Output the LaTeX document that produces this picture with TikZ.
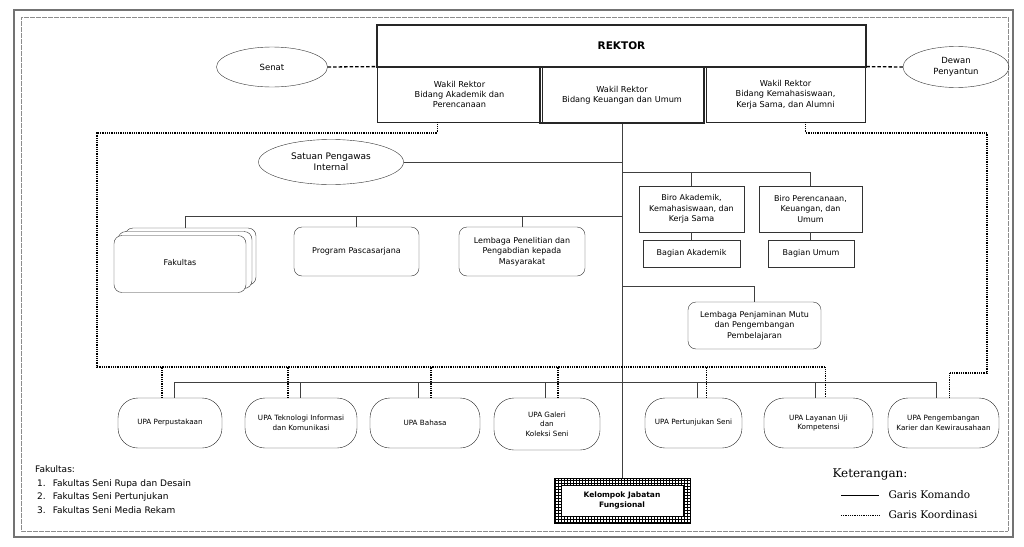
\documentclass[tikz,border=0pt]{standalone}
\usepackage{fontspec}
\setmainfont{DejaVu Sans}
\newfontfamily\ketfont{DejaVu Serif}
\usetikzlibrary{shapes.geometric, patterns, calc}

\begin{document}
\begin{tikzpicture}[x=1pt, y=-1pt,
  lead/.style={draw=black!85, line width=1.2pt, minimum width=489pt, minimum height=42pt, font=\fontsize{10.5}{12}\selectfont\bfseries},
  wakil/.style={draw=black!85, line width=0.8pt, minimum height=55pt, align=center, font=\fontsize{8.2}{10.3}\selectfont},
  oval/.style={draw=black!80, ellipse, inner sep=0pt, align=center, font=\fontsize{8.5}{10.5}\selectfont},
  biro/.style={draw=black!80, minimum height=46pt, align=center, font=\fontsize{8}{10.3}\selectfont},
  bagian/.style={draw=black!80, minimum height=27pt, align=center, font=\fontsize{8}{10}\selectfont},
  unitbox/.style={draw=black!80, fill=white, rounded corners=8pt, align=center, font=\fontsize{8}{10.3}\selectfont},
  upa/.style={draw=black!85, rounded corners=20pt, minimum height=50pt, align=center, font=\fontsize{7.2}{9.4}\selectfont},
  cmd/.style={black!75, line width=0.8pt},
  coord/.style={black, line width=1.2pt, dash pattern=on 0.9pt off 0.9pt},
  tie/.style={black, line width=1.3pt, dash pattern=on 3.5pt off 2pt},
]
\useasboundingbox (0,0) rectangle (1024,546);

% frame
\draw[black!55, line width=1.3pt] (14,10) rectangle (1013,537);
\draw[black!45, line width=0.5pt, dash pattern=on 0.6pt off 0.6pt] (21,17) rectangle (1008,531);

% top
\node[lead] (rek) at (621.5,46) {REKTOR};
\node[wakil, minimum width=165pt] (wk1) at (459.5,94.5) {Wakil Rektor\\Bidang Akademik dan\\Perencanaan};
\node[wakil, minimum width=159pt] (wk3) at (785.5,94.5) {Wakil Rektor\\Bidang Kemahasiswaan,\\Kerja Sama, dan Alumni};
\node[wakil, minimum width=164pt, minimum height=56pt, line width=1.3pt] (wk2) at (622,95) {Wakil Rektor\\Bidang Keuangan dan Umum};

\node[oval, minimum width=111pt, minimum height=40pt] (senat) at (272,67) {Senat};
\node[oval, minimum width=106pt, minimum height=41pt] (dewan) at (956,67) {Dewan\\Penyantun};
\node[oval, minimum width=145pt, minimum height=45pt, font=\fontsize{9}{11}\selectfont] (spi) at (331,162) {Satuan Pengawas\\Internal};

% left units
\node[unitbox, minimum width=131pt, minimum height=57pt] (fakb) at (190.5,256.5) {};
\node[unitbox, minimum width=134pt, minimum height=57pt] (fakm) at (185,260) {};
\node[unitbox, minimum width=132pt, minimum height=57pt] (fak) at (180,264) {\raisebox{4pt}{Fakultas}};
\node[unitbox, minimum width=125pt, minimum height=49pt] (pps) at (356.5,251.5) {Program Pascasarjana};
\node[unitbox, minimum width=126pt, minimum height=49pt] (lpp) at (522,251.5) {Lembaga Penelitian dan\\Pengabdian kepada\\Masyarakat};

% right units
\node[biro, minimum width=105pt] (biroa) at (691.5,209) {Biro Akademik,\\Kemahasiswaan, dan\\Kerja Sama};
\node[biro, minimum width=103pt] (birop) at (810.5,209) {Biro Perencanaan,\\Keuangan, dan\\Umum};
\node[bagian, minimum width=97pt] (baga) at (691.5,253.5) {Bagian Akademik};
\node[bagian, minimum width=86pt] (bagu) at (811,253.5) {Bagian Umum};
\node[unitbox, minimum width=133pt, minimum height=47pt] (lpm) at (754.5,325.5) {Lembaga Penjaminan Mutu\\dan Pengembangan\\Pembelajaran};

% UPA row
\node[upa, minimum width=104pt] (u1) at (170,423) {UPA Perpustakaan};
\node[upa, minimum width=112pt] (u2) at (301,423) {UPA Teknologi Informasi\\dan Komunikasi};
\node[upa, minimum width=110pt] (u3) at (425,423) {UPA Bahasa};
\node[upa, minimum width=106pt, minimum height=52pt] (u4) at (547,424) {UPA Galeri\\dan\\Koleksi Seni};
\node[upa, minimum width=97pt] (u5) at (693.5,423) {UPA Pertunjukan Seni};
\node[upa, minimum width=109pt] (u6) at (818.5,423) {UPA Layanan Uji\\Kompetensi};
\node[upa, minimum width=111pt] (u7) at (943.5,423) {UPA Pengembangan\\Karier dan Kewirausahaan};

\node[draw=black, line width=0.8pt, pattern=grid, minimum width=136pt, minimum height=45pt] (kjf) at (622,500.5) {};
\node[draw=black, fill=white, minimum width=122pt, minimum height=31pt, align=center, font=\fontsize{7.5}{9.5}\selectfont\bfseries] (kjftxt) at (kjf) {Kelompok Jabatan\\Fungsional};

\coordinate (barB) at (622,172);
\coordinate (barF) at (622,216);
\coordinate (barL) at (622,286);
\coordinate (barU) at (622,382);
\coordinate (dotL) at (97,133);
\coordinate (dotB) at (97,367);
\coordinate (dotR) at (987,133);
\coordinate (dotR2) at (987,373);

% garis komando
\draw[cmd] (wk2.south) -- (kjf.north);
\draw[cmd] (spi.east) -- (spi.east -| wk2.south);
\foreach \n in {biroa, birop}
  \draw[cmd] (\n.north) |- (barB);
\draw[cmd] (biroa.south) -- (baga.north);
\draw[cmd] (birop.south) -- (birop.south |- bagu.north);
\draw[cmd] ([xshift=-5pt]fakb.north) |- (barF);
\foreach \n in {pps, lpp}
  \draw[cmd] (\n.north) |- (barF);
\draw[cmd] (lpm.north) |- (barL);
\foreach \n/\s in {u1/4, u2/-1, u3/-7, u4/-2, u5/4, u6/-3, u7/-7}
  \draw[cmd] ([xshift=\s pt]\n.north) |- (barU);

% garis koordinasi
\draw[tie] (senat.east) -- (wk1.north west);
\draw[tie] (dewan.west) -- (wk3.north east);
\draw[coord] ([xshift=-22pt]wk1.south) |- (dotL) -- (dotB) -| ([xshift=7pt]u6.north);
\foreach \n/\s in {u1/-8, u2/-13, u3/6, u4/11, u5/13}
  \draw[coord] ([xshift=\s pt]\n.north) -- ([xshift=\s pt]\n.north |- dotB);
\draw[coord] ([xshift=20pt]wk3.south) |- (dotR) -- (dotR2) -| ([xshift=6pt]u7.north);

% notes
\node[anchor=north west, align=left, inner sep=0pt, font=\fontsize{9}{13.6}\selectfont] (fklist) at (35,465.5)
  {Fakultas:\\\hspace{2pt}1.\hspace{7pt}Fakultas Seni Rupa dan Desain\\\hspace{2pt}2.\hspace{7pt}Fakultas Seni Pertunjukan\\\hspace{2pt}3.\hspace{7pt}Fakultas Seni Media Rekam};
\node[anchor=west, font=\ketfont\fontsize{12}{14}\selectfont] (ket) at (829,474) {Keterangan:};
\node[anchor=west, font=\ketfont\fontsize{10.5}{12}\selectfont] (lk1) at (885,495) {Garis Komando};
\node[anchor=west, font=\ketfont\fontsize{10.5}{12}\selectfont] (lk2) at (885,515) {Garis Koordinasi};
\draw[cmd, black] ([xshift=-44pt]lk1.west) -- ([xshift=-6pt]lk1.west);
\draw[coord, line width=1pt] ([xshift=-44pt]lk2.west) -- ([xshift=-6pt]lk2.west);
\end{tikzpicture}
\end{document}
